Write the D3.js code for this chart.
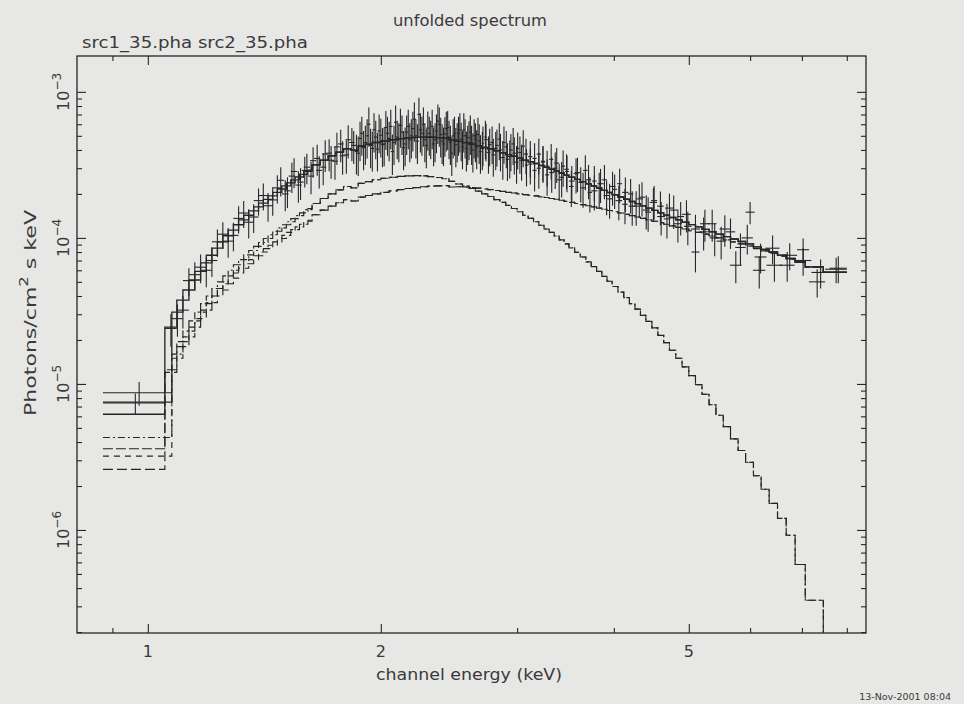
<!DOCTYPE html>
<html>
<head>
<meta charset="utf-8">
<script src="https://cdn.jsdelivr.net/npm/d3@7"></script>
<style>
  html, body { margin: 0; padding: 0; background: #e7e7e5; }
  svg { display: block; }
  text { font-family: "DejaVu Sans", "Liberation Sans", sans-serif; fill: #3a3a3a; }
</style>
</head>
<body>
<svg id="chart" width="964" height="704"></svg>
<script>
// Flux values are in units of 1e-5 photons / cm^2 / s / keV.
const UNIT = 1e-5;

// Axis ranges and ticks
const xDomain = [0.81, 8.47];
const yDomain = [1.97e-7, 1.76e-3];
const xLabelTicks = [1, 2, 5];
const xMinorTicks = [0.9, 3, 4, 6, 7, 8];
const yMajorTicks = [1e-6, 1e-5, 1e-4, 1e-3];
const yExponents = ["−6", "−5", "−4", "−3"];

// Data set 1 (src1_35.pha): [E low, E high, flux, error]
const src1Bins = [
  [0.875,1.074,0.87,0.16],[1.074,1.11,2.8,0.7],[1.11,1.15,5.1,1.1],[1.15,1.19,6.3,1.4],
  [1.19,1.23,7.0,1.6],[1.23,1.27,10.6,2.2],[1.27,1.31,10.4,2.3],[1.31,1.35,14.8,3.1],
  [1.35,1.39,13.9,3.1],[1.39,1.43,19.5,4.1],[1.43,1.47,18.2,4.0],[1.47,1.50,24.8,5.6],
  [1.50,1.53,21.0,5.0],[1.53,1.56,28.5,6.6],[1.56,1.59,24.1,5.9],[1.59,1.62,30.5,7.2],
  [1.62,1.65,33.8,8.0],[1.65,1.68,29.0,7.2],[1.68,1.71,37.5,9.2],[1.71,1.74,34.0,8.6],
  [1.74,1.77,42.0,10.5],[1.77,1.80,36.5,9.4],[1.80,1.83,47.0,12],[1.83,1.86,43.0,11],
  [1.86,1.88,38.0,11.5],[1.88,1.90,52.0,15.5],[1.90,1.92,45.0,13.5],[1.92,1.94,60.0,18],
  [1.94,1.96,41.0,12.5],[1.96,1.98,49.0,14.5],[1.98,2.00,54.0,16],[2.00,2.02,43.5,13],
  [2.02,2.04,57.0,17],[2.04,2.06,48.0,14.5],[2.06,2.08,39.0,12],[2.08,2.10,62.0,18.5],
  [2.10,2.12,47.0,14],[2.12,2.14,53.0,16],[2.14,2.16,44.0,13],[2.16,2.18,58.0,17.5],
  [2.18,2.20,50.0,15],[2.20,2.22,65.0,19.5],[2.22,2.24,46.0,14],[2.24,2.26,55.0,16.5],
  [2.26,2.28,60.0,18],[2.28,2.30,43.0,13],[2.30,2.32,52.0,15.5],[2.32,2.34,58.0,17.5],
  [2.34,2.36,47.0,14],[2.36,2.38,63.0,19],[2.38,2.40,51.0,15.5],[2.40,2.42,44.0,13],
  [2.42,2.44,56.0,17],[2.44,2.46,49.0,14.5],[2.46,2.48,38.0,11.5],[2.48,2.50,52.0,15.5],
  [2.50,2.52,47.0,14],[2.52,2.54,55.0,16.5],[2.54,2.56,42.0,12.5],[2.56,2.58,50.0,15],
  [2.58,2.60,45.0,13.5],[2.60,2.62,53.0,16],[2.62,2.64,40.0,12],[2.64,2.66,47.0,14],
  [2.66,2.68,51.0,15.5],[2.68,2.70,39.0,11.5],[2.70,2.72,44.5,13.5],[2.72,2.74,49.0,14.5],
  [2.74,2.77,38.5,11],[2.77,2.80,45.0,13],[2.80,2.83,41.0,12],[2.83,2.86,47.5,13.5],
  [2.86,2.89,35.5,10.5],[2.89,2.92,42.0,12],[2.92,2.95,36.0,10.5],[2.95,2.98,44.0,12.5],
  [2.98,3.01,33.0,9.5],[3.01,3.04,38.5,11],[3.04,3.07,42.5,12],[3.07,3.10,31.5,9],
  [3.10,3.14,36.0,10],[3.14,3.18,29.0,8.2],[3.18,3.22,37.5,10.2],[3.22,3.26,33.0,9.2],
  [3.26,3.30,27.0,7.6],[3.30,3.34,34.5,9.4],[3.34,3.38,30.0,8.4],[3.38,3.42,25.0,7],
  [3.42,3.46,31.0,8.6],[3.46,3.50,28.5,8],[3.50,3.55,22.5,6.2],[3.55,3.60,27.5,7.4],
  [3.60,3.65,24.0,6.5],[3.65,3.70,29.0,7.8],[3.70,3.75,20.5,5.6],[3.75,3.80,24.5,6.6],
  [3.80,3.86,22.0,5.9],[3.86,3.92,25.0,6.6],[3.92,3.98,18.5,5],[3.98,4.04,21.5,5.7],
  [4.04,4.10,23.5,6.2],[4.10,4.17,17.0,4.6],[4.17,4.24,20.0,5.3],[4.24,4.31,16.5,4.4],
  [4.31,4.39,19.0,5],[4.39,4.47,15.0,4],[4.47,4.55,18.0,4.7],[4.55,4.64,16.5,4.3],
  [4.64,4.73,13.5,3.6],[4.73,4.83,15.5,4],[4.83,4.93,14.0,3.6],[4.93,5.04,12.0,3.1],
  [5.04,5.16,8.0,2.2],[5.16,5.29,11.0,2.8],[5.29,5.43,12.5,3.1],[5.43,5.58,9.5,2.4],
  [5.58,5.74,11.0,2.6],[5.74,5.92,8.6,2.1],[5.92,6.08,15.0,2.6],[6.08,6.30,7.4,1.7],
  [6.30,6.60,6.5,1.5],[6.60,6.90,7.6,1.6],[6.90,7.15,8.3,1.6],[7.15,7.50,5.0,1.1],
  [7.50,8.00,6.1,1.2]
];

// Data set 2 (src2_35.pha): [E low, E high, flux, error]
const src2Bins = [
  [0.875,1.052,0.74,0.12],[1.052,1.09,2.4,0.6],[1.09,1.13,3.2,0.8],[1.13,1.17,5.6,1.2],
  [1.17,1.21,6.0,1.4],[1.21,1.25,9.4,2.0],[1.25,1.29,9.5,2.2],[1.29,1.33,13.6,2.9],
  [1.33,1.37,12.8,2.9],[1.37,1.41,18.0,3.8],[1.41,1.45,16.6,3.7],[1.45,1.49,22.0,4.8],
  [1.49,1.52,20.0,4.8],[1.52,1.55,26.5,6.2],[1.55,1.58,23.0,5.6],[1.58,1.61,29.0,6.9],
  [1.61,1.64,26.5,6.6],[1.64,1.67,35.0,8.4],[1.67,1.70,30.5,7.6],[1.70,1.73,38.0,9.4],
  [1.73,1.76,33.5,8.5],[1.76,1.79,44.0,11],[1.79,1.82,37.0,9.5],[1.82,1.85,45.0,11.5],
  [1.85,1.87,39.0,11.8],[1.87,1.89,48.0,14.5],[1.89,1.91,41.5,12.5],[1.91,1.93,50.0,15],
  [1.93,1.95,43.0,13],[1.95,1.97,55.0,16.5],[1.97,1.99,40.5,12],[1.99,2.01,50.5,15],
  [2.01,2.03,44.0,13],[2.03,2.05,52.0,15.5],[2.05,2.07,58.0,17.5],[2.07,2.09,45.0,13.5],
  [2.09,2.11,49.0,14.5],[2.11,2.13,59.0,17.5],[2.13,2.15,41.5,12.5],[2.15,2.17,53.0,16],
  [2.17,2.19,47.0,14],[2.19,2.21,56.0,17],[2.21,2.23,50.0,15],[2.23,2.25,70.0,21],
  [2.25,2.27,52.0,15.5],[2.27,2.29,47.0,14],[2.29,2.31,56.5,17],[2.31,2.33,49.0,14.5],
  [2.33,2.35,44.0,13],[2.35,2.37,54.0,16],[2.37,2.39,60.0,18],[2.39,2.41,46.0,14],
  [2.41,2.43,51.5,15.5],[2.43,2.45,57.0,17],[2.45,2.47,45.0,13.5],[2.47,2.49,50.0,15],
  [2.49,2.51,43.5,13],[2.51,2.53,52.0,15.5],[2.53,2.55,47.5,14],[2.55,2.57,55.0,16.5],
  [2.57,2.59,41.0,12.5],[2.59,2.61,48.5,14.5],[2.61,2.63,45.0,13.5],[2.63,2.65,50.0,15],
  [2.65,2.67,42.0,12.5],[2.67,2.69,46.0,14],[2.69,2.72,41.0,12],[2.72,2.75,47.0,13.5],
  [2.75,2.78,43.5,12.5],[2.78,2.81,37.0,10.8],[2.81,2.84,43.0,12.2],[2.84,2.87,40.0,11.5],
  [2.87,2.90,45.0,12.8],[2.90,2.93,34.5,10],[2.93,2.96,40.0,11.4],[2.96,2.99,38.0,10.8],
  [2.99,3.02,41.0,11.6],[3.02,3.06,34.0,9.4],[3.06,3.10,37.5,10.2],[3.10,3.14,32.0,8.8],
  [3.14,3.18,35.0,9.5],[3.18,3.22,30.0,8.3],[3.22,3.26,33.5,9.1],[3.26,3.30,31.0,8.5],
  [3.30,3.35,28.0,7.6],[3.35,3.40,32.5,8.7],[3.40,3.45,26.0,7.1],[3.45,3.50,29.5,7.9],
  [3.50,3.56,24.5,6.6],[3.56,3.62,28.0,7.4],[3.62,3.68,22.0,5.9],[3.68,3.74,25.0,6.6],
  [3.74,3.81,21.0,5.6],[3.81,3.88,23.5,6.2],[3.88,3.95,19.5,5.2],[3.95,4.02,22.5,5.9],
  [4.02,4.10,18.0,4.8],[4.10,4.18,20.5,5.4],[4.18,4.27,16.5,4.4],[4.27,4.36,18.5,4.8],
  [4.36,4.45,15.5,4.1],[4.45,4.55,17.5,4.5],[4.55,4.66,14.0,3.6],[4.66,4.78,16.0,4.1],
  [4.78,4.90,12.5,3.2],[4.90,5.03,14.5,3.6],[5.03,5.17,11.5,2.9],[5.17,5.32,12.5,3.1],
  [5.32,5.48,10.0,2.5],[5.48,5.65,11.5,2.8],[5.65,5.85,6.5,1.6],[5.85,6.05,10.0,2.3],
  [6.05,6.28,6.0,1.5],[6.28,6.55,8.5,1.9],[6.55,6.85,6.5,1.5],[6.85,7.20,7.0,1.5],
  [7.20,7.60,5.8,1.3],[7.60,8.00,6.2,1.3]
];

// Model components on the src1 binning: [E low, E high, thermal, power law]
const model1Bins = [
  [0.875,1.074,0.43,0.32],[1.074,1.11,1.6,1.5],[1.11,1.15,2.3,2.1],[1.15,1.19,3.1,2.8],
  [1.19,1.23,4.0,3.6],[1.23,1.27,5.0,4.4],[1.27,1.31,6.0,5.3],[1.31,1.35,7.1,6.2],
  [1.35,1.39,8.2,7.1],[1.39,1.43,9.3,8.0],[1.43,1.47,10.5,8.9],[1.47,1.51,11.7,9.9],
  [1.51,1.55,12.9,10.9],[1.55,1.59,14.2,11.9],[1.59,1.63,15.6,13.0],[1.63,1.67,17.2,14.4],
  [1.67,1.71,18.6,15.5],[1.71,1.75,20.0,16.5],[1.75,1.79,21.3,17.4],[1.79,1.83,22.5,18.3],
  [1.83,1.87,22.0,17.9],[1.87,1.91,23.6,19.0],[1.91,1.95,24.3,19.5],[1.95,2.00,25.0,20.0],
  [2.00,2.05,25.6,20.5],[2.05,2.10,26.0,21.0],[2.10,2.15,26.4,21.4],[2.15,2.20,26.6,21.8],
  [2.20,2.25,26.7,22.1],[2.25,2.30,26.6,22.4],[2.30,2.35,26.3,22.6],[2.35,2.40,25.9,22.7],
  [2.40,2.45,25.4,22.8],[2.45,2.50,24.4,22.3],
  [2.50,2.55,23.4,22.4],[2.55,2.60,22.6,22.3],[2.60,2.65,21.8,22.1],[2.65,2.70,20.9,21.9],
  [2.70,2.75,20.0,21.6],[2.75,2.80,19.2,21.4],[2.80,2.85,18.3,21.1],[2.85,2.90,17.5,20.8],
  [2.90,2.95,16.7,20.5],[2.95,3.00,15.9,20.3],[3.00,3.05,15.1,20.0],[3.05,3.10,14.3,19.8],
  [3.10,3.15,13.6,19.6],[3.15,3.20,12.9,19.4],[3.20,3.25,12.2,19.1],[3.25,3.30,11.5,18.9],
  [3.30,3.35,10.9,18.6],[3.35,3.40,10.3,18.4],[3.40,3.45,9.7,18.1],[3.45,3.50,9.1,17.8],
  [3.50,3.56,8.55,17.5],[3.56,3.62,7.95,17.2],[3.62,3.68,7.4,16.9],[3.68,3.74,6.85,16.6],
  [3.74,3.80,6.35,16.3],[3.80,3.86,5.9,16.0],[3.86,3.92,5.45,15.7],[3.92,3.98,5.05,15.4],
  [3.98,4.05,4.65,15.1],[4.05,4.12,4.25,14.8],[4.12,4.19,3.9,14.5],[4.19,4.26,3.55,14.2],
  [4.26,4.33,3.25,13.9],[4.33,4.40,2.95,13.6],[4.40,4.48,2.68,13.3],[4.48,4.56,2.42,13.0],
  [4.56,4.64,2.15,12.7],[4.64,4.72,1.92,12.4],[4.72,4.81,1.70,12.1],[4.81,4.90,1.50,11.8],
  [4.90,5.00,1.31,11.5],[5.00,5.10,1.14,11.2],[5.10,5.20,0.99,10.9],[5.20,5.31,0.85,10.6],
  [5.31,5.42,0.72,10.3],[5.42,5.54,0.61,10.0],[5.54,5.66,0.51,9.7],[5.66,5.79,0.42,9.4],
  [5.79,5.92,0.35,9.1],[5.92,6.06,0.29,8.8],[6.06,6.20,0.235,8.45],[6.20,6.35,0.19,8.15],
  [6.35,6.51,0.152,7.85],[6.51,6.68,0.12,7.5],[6.68,6.86,0.092,7.15],[6.86,7.07,0.058,6.8],
  [7.07,7.46,0.033,6.3],[7.46,8.00,0.015,5.8]
];

// Model components on the src2 binning below 1.63 keV (above it the grids coincide)
const model2LowBins = [
  [0.875,1.052,0.36,0.26],[1.052,1.09,1.25,1.2],[1.09,1.13,1.95,1.8],[1.13,1.17,2.7,2.45],
  [1.17,1.21,3.55,3.2],[1.21,1.25,4.5,4.0],[1.25,1.29,5.5,4.85],[1.29,1.33,6.55,5.75],
  [1.33,1.37,7.65,6.65],[1.37,1.41,8.75,7.55],[1.41,1.45,9.9,8.45],[1.45,1.49,11.1,9.4],
  [1.49,1.53,12.3,10.4],[1.53,1.57,13.55,11.4],[1.57,1.61,14.85,12.4],[1.61,1.63,15.9,13.2]
];

// ---- layout ----
const L = 77, R = 866, T = 56, B = 633;
const ink = "#262626";

const svg = d3.select("#chart");
svg.append("rect").attr("width", 964).attr("height", 704).attr("fill", "#e7e7e5");

const x = d3.scaleLog().domain(xDomain).range([L, R]);
const y = d3.scaleLog().domain(yDomain).range([B, T]);

svg.append("clipPath").attr("id", "plotArea")
  .append("rect").attr("x", L).attr("y", T).attr("width", R - L).attr("height", B - T);

const plot = svg.append("g").attr("clip-path", "url(#plotArea)");

// ---- data crosses ----
function drawCrosses(bins) {
  const g = plot.append("g").attr("stroke", ink).attr("stroke-width", 1.1).attr("fill", "none");
  bins.forEach(([lo, hi, v, e]) => {
    const xc = (lo + hi) / 2;
    g.append("line")
      .attr("x1", x(lo)).attr("x2", x(hi))
      .attr("y1", y(v * UNIT)).attr("y2", y(v * UNIT));
    g.append("line")
      .attr("x1", x(xc)).attr("x2", x(xc))
      .attr("y1", y((v + e) * UNIT)).attr("y2", y(Math.max(v - e, 0.01) * UNIT));
  });
}
drawCrosses(src1Bins);
drawCrosses(src2Bins);

// ---- model histograms ----
const stepLine = d3.line().x(d => x(d[0])).y(d => y(d[1] * UNIT));
function steps(rows, valueOf) {
  const pts = [];
  rows.forEach(r => { const v = valueOf(r); pts.push([r[0], v]); pts.push([r[1], v]); });
  return pts;
}
const model2Bins = model2LowBins.concat(model1Bins.filter(r => r[0] >= 1.63 - 1e-9));

const thermal = r => r[2];
const powerLaw = r => r[3];
const total = r => r[2] + r[3];

function drawStep(rows, valueOf, dash, width) {
  plot.append("path")
    .attr("d", stepLine(steps(rows, valueOf)))
    .attr("fill", "none")
    .attr("stroke", ink)
    .attr("stroke-width", width)
    .attr("stroke-dasharray", dash)
    .attr("stroke-linejoin", "miter");
}
drawStep(model1Bins, thermal, "7,3,2,3", 1.15);
drawStep(model2Bins, thermal, "10,3", 1.15);
drawStep(model1Bins, powerLaw, "6,5", 1.15);
drawStep(model2Bins, powerLaw, "10,4", 1.15);
drawStep(model1Bins, total, null, 1.35);
drawStep(model2Bins, total, null, 1.35);

// ---- frame and ticks ----
svg.append("rect")
  .attr("x", L).attr("y", T).attr("width", R - L).attr("height", B - T)
  .attr("fill", "none").attr("stroke", ink).attr("stroke-width", 1.3);

const yMinorTicks = y.ticks().filter(v => !yMajorTicks.some(m => Math.abs(v / m - 1) < 1e-6));

function ticks(axis, translate, values, size) {
  svg.append("g")
    .attr("transform", translate)
    .style("color", ink)
    .call(axis.tickValues(values).tickSize(size).tickFormat(""))
    .call(g => g.select(".domain").remove())
    .call(g => g.selectAll("line").attr("stroke-width", 1.1));
}
ticks(d3.axisTop(x), `translate(0,${B})`, xLabelTicks, 9);
ticks(d3.axisTop(x), `translate(0,${B})`, xMinorTicks, 5);
ticks(d3.axisBottom(x), `translate(0,${T})`, xLabelTicks, 9);
ticks(d3.axisBottom(x), `translate(0,${T})`, xMinorTicks, 5);
ticks(d3.axisRight(y), `translate(${L},0)`, yMajorTicks, 9);
ticks(d3.axisRight(y), `translate(${L},0)`, yMinorTicks, 5);
ticks(d3.axisLeft(y), `translate(${R},0)`, yMajorTicks, 9);
ticks(d3.axisLeft(y), `translate(${R},0)`, yMinorTicks, 5);

// ---- tick labels ----
xLabelTicks.forEach(v => {
  svg.append("text")
    .attr("x", x(v)).attr("y", 657)
    .attr("text-anchor", "middle").attr("font-size", 16)
    .text(String(v));
});

yMajorTicks.forEach((v, i) => {
  const t = svg.append("text")
    .attr("transform", `translate(${L - 8},${y(v)}) rotate(-90)`)
    .attr("text-anchor", "middle").attr("font-size", 16);
  t.append("tspan").text("10");
  t.append("tspan").attr("dy", -8).attr("font-size", 12).text(yExponents[i]);
});

// ---- titles ----
svg.append("text")
  .attr("x", 470).attr("y", 26).attr("text-anchor", "middle")
  .attr("font-size", 16).attr("textLength", 154).attr("lengthAdjust", "spacingAndGlyphs")
  .text("unfolded spectrum");

svg.append("text")
  .attr("x", 82).attr("y", 48)
  .attr("font-size", 16).attr("textLength", 226).attr("lengthAdjust", "spacingAndGlyphs")
  .text("src1_35.pha src2_35.pha");

svg.append("text")
  .attr("x", 469).attr("y", 680).attr("text-anchor", "middle")
  .attr("font-size", 16).attr("textLength", 186).attr("lengthAdjust", "spacingAndGlyphs")
  .text("channel energy (keV)");

const yl = svg.append("text")
  .attr("transform", "translate(36,313) rotate(-90)")
  .attr("text-anchor", "middle").attr("font-size", 16)
  .attr("textLength", 206).attr("lengthAdjust", "spacingAndGlyphs");
yl.append("tspan").text("Photons/cm");
yl.append("tspan").attr("dy", -8).attr("font-size", 12).text("2");
yl.append("tspan").attr("dy", 8).text(" s keV");

svg.append("text")
  .attr("x", 951).attr("y", 700).attr("text-anchor", "end")
  .attr("font-size", 9.5)
  .text("13-Nov-2001 08:04");
</script>
</body>
</html>
